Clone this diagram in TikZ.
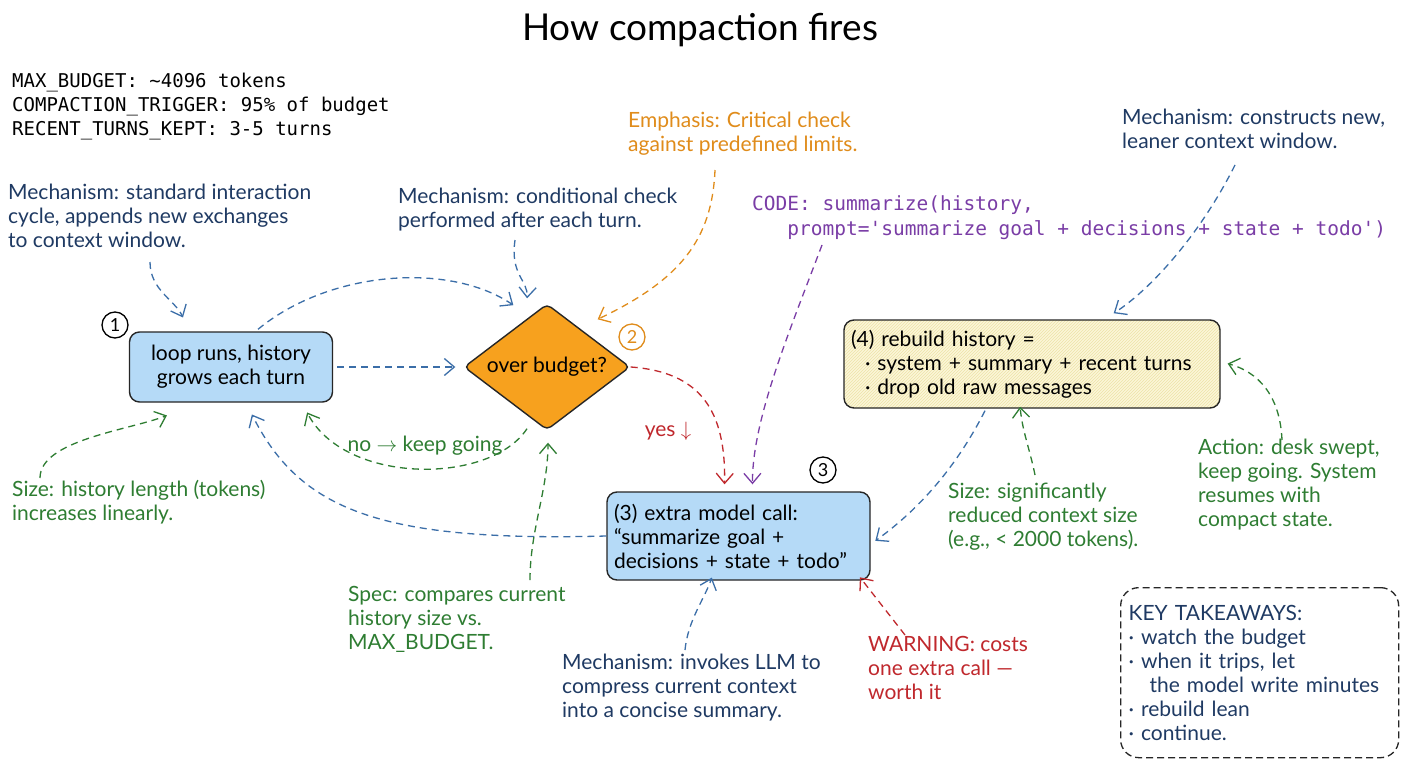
\documentclass[tikz,border=0pt]{standalone}
\usepackage{fontspec}
\setmainfont{Lato}
\setmonofont{DejaVu Sans Mono}
\usetikzlibrary{arrows.meta,shapes.geometric,patterns,calc}
\definecolor{navy}{HTML}{1F3A63}
\definecolor{abl}{HTML}{3B6EA8}
\definecolor{grn}{HTML}{2E7D32}
\definecolor{org}{HTML}{E08C1B}
\definecolor{rd}{HTML}{C0282D}
\definecolor{pur}{HTML}{7A3DA6}
\definecolor{nblue}{HTML}{B5DAF7}
\definecolor{dorange}{HTML}{F7A11E}
\definecolor{ylw}{HTML}{FCF6D8}
\definecolor{hatch}{HTML}{EDE3A8}
\newcommand\fsz{\fontsize{21}{24}\selectfont}
\newcommand\msz{\fontsize{19}{24}\selectfont\ttfamily}
\tikzset{
  note/.style={anchor=north west, inner sep=0pt, align=left, font=\fsz},
  arr/.style={dash pattern=on 7pt off 5pt, line width=1.3pt, shorten >=2pt,
    -{Straight Barb[length=10pt,width=17pt,line width=1.3pt]}},
  box/.style={draw=black!85, line width=1.4pt, rounded corners=10pt, font=\fsz, align=left},
  num/.style={circle, draw, line width=1.3pt, minimum size=26pt, inner sep=0pt, font=\fontsize{18}{18}\selectfont},
}
\begin{document}
\begin{tikzpicture}[x=1pt,y=-1pt]
\useasboundingbox[fill=white] (0,0) rectangle (1408,768);

% title
\node[font=\fontsize{37}{40}\selectfont] (title) at (700,30) {How compaction fires};

% header constants
\node[anchor=north west, inner sep=0pt, align=left, font=\msz] (hdr) at (12,73)
  {MAX\_BUDGET: \textasciitilde4096 tokens\\COMPACTION\_TRIGGER: 95\% of budget\\RECENT\_TURNS\_KEPT: 3-5 turns};

% main nodes
\node[box, fill=nblue, minimum width=203pt, minimum height=70pt, align=center] (n1) at (231,367)
  {loop runs, history\\grows each turn};
\node[diamond, aspect=1.32, draw=black!85, line width=1.4pt, fill=dorange, minimum width=166pt, minimum height=126pt,
  inner sep=0pt, rounded corners=5pt, font=\fsz] (d) at (547,367) {over budget?};
\node[box, fill=nblue, minimum width=263pt, minimum height=88pt, text width=249pt, inner xsep=7pt] (n3) at (738.5,536)
  {(3) extra model call:\\``summarize goal +\\decisions + state + todo''};
\node[box, preaction={fill=ylw}, pattern=north east lines, pattern color=hatch, minimum width=376pt, minimum height=88pt,
  text width=362pt, inner xsep=7pt] (n4) at (1032,364)
  {(4) rebuild history =\\\ \ \textperiodcentered\ system + summary + recent turns\\\ \ \textperiodcentered\ drop old raw messages};

% number badges
\node[num] (b1) at (115,325) {1};
\node[num, draw=org, text=org] (b2) at (632,337) {2};
\node[num] (b3) at (823,470) {3};

% notes
\node[note, text=navy] (m1) at (8,184) {Mechanism: standard interaction\\cycle, appends new exchanges\\to context window.};
\node[note, text=navy] (m2) at (398,188) {Mechanism: conditional check\\performed after each turn.};
\node[note, text=org] (e1) at (628,112) {Emphasis: Critical check\\against predefined limits.};
\node[anchor=north west, inner sep=0pt, align=left, font=\fontsize{19.5}{25}\selectfont\ttfamily, text=pur] (code) at (752,195)
  {CODE: summarize(history,\\\ \ \ prompt='summarize goal + decisions + state + todo')};
\node[note, text=navy] (m3) at (1122,109) {Mechanism: constructs new,\\leaner context window.};
\node[note, text=grn] (s1) at (12,480) {Size: history length (tokens)\\increases linearly.};
\node[note, text=grn] (sp) at (348,586) {Spec: compares current\\history size vs.\\MAX\_BUDGET.};
\node[note, text=navy] (m4) at (562,654) {Mechanism: invokes LLM to\\compress current context\\into a concise summary.};
\node[note, text=rd] (w) at (868,636) {WARNING: costs\\one extra call ---\\worth it};
\node[note, text=grn] (s2) at (948,483) {Size: significantly\\reduced context size\\(e.g., < 2000 tokens).};
\node[note, text=grn] (ac) at (1198,439) {Action: desk swept,\\keep going. System\\resumes with\\compact state.};

% labels
\node[font=\fsz, text=rd, inner sep=1pt] (yes) at (668,431) {yes $\downarrow$};
\node[font=\fsz, text=grn, inner sep=1pt] (no) at (425,446) {no $\rightarrow$ keep going};

% key takeaways
\node[draw=black!85, dashed, dash pattern=on 7pt off 4pt, line width=1.3pt, rounded corners=18pt,
  minimum width=277pt, minimum height=170pt, text width=262pt, align=left, font=\fsz, text=navy,
  anchor=north west, inner xsep=8pt] (kt) at (1120,587)
  {KEY TAKEAWAYS:\\\textperiodcentered\ watch the budget\\\textperiodcentered\ when it trips, let\\\ \ \ the model write minutes\\\textperiodcentered\ rebuild lean\\\textperiodcentered\ continue.};

% coordinates for free ends
\coordinate (c1) at (150,262);
\coordinate (c3) at (515,240);
\coordinate (c4) at (715,170);
\coordinate (c7) at (40,478);
\coordinate (c9) at (530,580);
\coordinate (c11) at (822,245);
\coordinate (c12) at (1235,165);
\coordinate (c14) at (1035,475);
\coordinate (c15) at (1282,440);
\coordinate (c16) at (685,650);
\coordinate (c17) at (905,635);

% connectors
\draw[arr, abl] (c1) .. controls (150,290) and (175,300) .. ($(n1.north west)+(55,-12)$);
\draw[arr, abl] ($(n1.north)+(27,-2)$) .. controls (330,270) and (450,262) .. ($(d.north)+(-32,3)$);
\draw[arr, abl] (c3) .. controls (510,275) and (528,280) .. ($(d.north)+(-20,-3)$);
\draw[arr, org] (c4) .. controls (712,240) and (680,280) .. ($(d.north east)+(7,-15)$);
\draw[arr, abl] ($(n1.east)+(4,0)$) -- ($(d.west)+(-6,0)$);
\draw[arr, grn] ($(d.south)+(-20,-2)$) .. controls (490,485) and (345,485) .. ($(n1.south east)+(-27,8)$);
\draw[arr, grn] (c7) .. controls (40,440) and (130,430) .. ($(n1.south west)+(40,12)$);
\draw[arr, abl] (n3.west) .. controls (380,542) and (300,510) .. ($(n1.south)+(20,10)$);
\draw[arr, grn] (c9) .. controls (530,530) and (548,490) .. ($(d.south)+(1,10)$);
\draw[arr, rd] (d.east) .. controls (700,372) and (726,410) .. ($(n3.north)+(-14,-5)$);
\draw[arr, pur] (c11) .. controls (790,330) and (752,420) .. ($(n3.north)+(14,-5)$);
\draw[arr, abl] (c12) .. controls (1200,235) and (1150,290) .. ($(n4.north)+(80,-5)$);
\draw[arr, abl] ($(n4.south)+(-47,2)$) .. controls (960,460) and (925,505) .. ($(n3.east)+(3,6)$);
\draw[arr, grn] (c14) .. controls (1030,450) and (1022,430) .. ($(n4.south)+(-12,-4)$);
\draw[arr, grn] (c15) .. controls (1280,395) and (1258,372) .. ($(n4.east)+(5,-1)$);
\draw[arr, abl] (c16) .. controls (688,620) and (704,600) .. ($(n3.south)+(-26,-5)$);
\draw[arr, rd] (c17) -- ($(n3.south east)+(-12,-5)$);
\end{tikzpicture}
\end{document}
